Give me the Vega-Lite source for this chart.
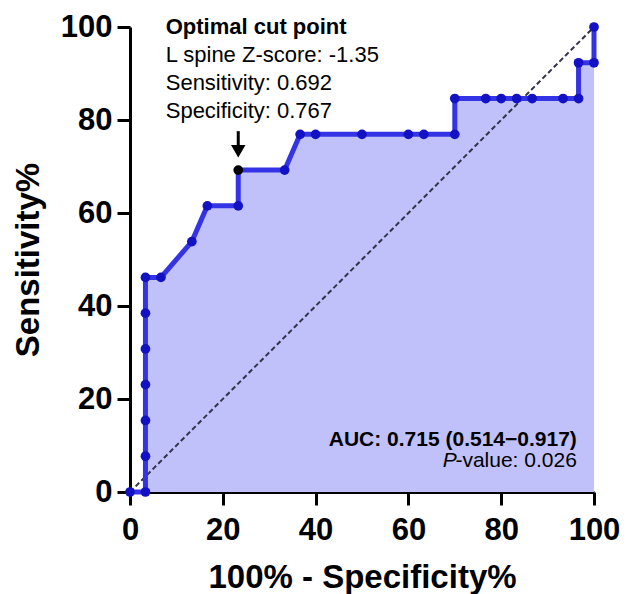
{
  "$schema": "https://vega.github.io/schema/vega-lite/v6.json",
  "width": 464,
  "height": 465,
  "autosize": {"type": "none"},
  "padding": {"left": 130, "top": 27, "right": 39, "bottom": 102},
  "background": "white",
  "config": {
    "view": {"stroke": null},
    "font": "Liberation Sans",
    "axis": {
      "grid": false,
      "domainColor": "black",
      "domainWidth": 3,
      "tickColor": "black",
      "tickWidth": 3,
      "tickSize": 13,
      "labelColor": "black",
      "labelFont": "Liberation Sans",
      "labelFontSize": 31,
      "labelFontWeight": "bold",
      "labelFlush": false,
      "labelOverlap": false,
      "titleColor": "black",
      "titleFont": "Liberation Sans",
      "titleFontSize": 33,
      "titleFontWeight": "bold"
    }
  },
  "datasets": {
    "roc": [
      {"order": 1, "fpr": 0, "sens": 0, "kind": "point"},
      {"order": 2, "fpr": 3.33, "sens": 0, "kind": "point"},
      {"order": 3, "fpr": 3.33, "sens": 7.69, "kind": "point"},
      {"order": 4, "fpr": 3.33, "sens": 15.38, "kind": "point"},
      {"order": 5, "fpr": 3.33, "sens": 23.08, "kind": "point"},
      {"order": 6, "fpr": 3.33, "sens": 30.77, "kind": "point"},
      {"order": 7, "fpr": 3.33, "sens": 38.46, "kind": "point"},
      {"order": 8, "fpr": 3.33, "sens": 46.15, "kind": "point"},
      {"order": 9, "fpr": 6.67, "sens": 46.15, "kind": "point"},
      {"order": 10, "fpr": 13.33, "sens": 53.85, "kind": "point"},
      {"order": 11, "fpr": 16.67, "sens": 61.54, "kind": "point"},
      {"order": 12, "fpr": 23.33, "sens": 61.54, "kind": "point"},
      {"order": 13, "fpr": 23.33, "sens": 69.23, "kind": "optimal"},
      {"order": 14, "fpr": 33.33, "sens": 69.23, "kind": "point"},
      {"order": 15, "fpr": 36.67, "sens": 76.92, "kind": "point"},
      {"order": 16, "fpr": 40, "sens": 76.92, "kind": "point"},
      {"order": 17, "fpr": 50, "sens": 76.92, "kind": "point"},
      {"order": 18, "fpr": 60, "sens": 76.92, "kind": "point"},
      {"order": 19, "fpr": 63.33, "sens": 76.92, "kind": "point"},
      {"order": 20, "fpr": 70, "sens": 76.92, "kind": "point"},
      {"order": 21, "fpr": 70, "sens": 84.62, "kind": "point"},
      {"order": 22, "fpr": 76.67, "sens": 84.62, "kind": "point"},
      {"order": 23, "fpr": 80, "sens": 84.62, "kind": "point"},
      {"order": 24, "fpr": 83.33, "sens": 84.62, "kind": "point"},
      {"order": 25, "fpr": 86.67, "sens": 84.62, "kind": "point"},
      {"order": 26, "fpr": 93.33, "sens": 84.62, "kind": "point"},
      {"order": 27, "fpr": 96.67, "sens": 84.62, "kind": "point"},
      {"order": 28, "fpr": 96.67, "sens": 92.31, "kind": "point"},
      {"order": 29, "fpr": 100, "sens": 92.31, "kind": "point"},
      {"order": 30, "fpr": 100, "sens": 100, "kind": "point"}
    ],
    "diag": [
      {"fpr": 0, "sens": 0},
      {"fpr": 100, "sens": 100}
    ],
    "notesLeft": [
      {"x": 7.7, "y": 92.5, "text": "L spine Z-score: -1.35"},
      {"x": 7.7, "y": 86.5, "text": "Sensitivity: 0.692"},
      {"x": 7.7, "y": 80.4, "text": "Specificity: 0.767"}
    ],
    "notesBold": [
      {"x": 7.7, "y": 98.5, "text": "Optimal cut point"}
    ],
    "auc": [
      {"x": 96.3, "y": 9.8, "text": "AUC: 0.715 (0.514\u22120.917)"}
    ],
    "pval": [
      {"x": 96.3, "y": 5.3, "text": "-value: 0.026"}
    ],
    "pItalic": [
      {"x": 70.4, "y": 5.3, "text": "P"}
    ],
    "arrow": [
      {"x": 23.33, "y1": 77.6, "y2": 74.5, "tip": 73.3}
    ]
  },
  "layer": [
    {
      "data": {"name": "roc"},
      "mark": {"type": "area", "color": "#c0c0fa", "opacity": 1},
      "encoding": {
        "x": {"field": "fpr", "type": "quantitative", "scale": {"domain": [0, 100], "nice": false}, "axis": {"values": [0, 20, 40, 60, 80, 100], "title": "100% - Specificity%", "labelPadding": 10, "titlePadding": 16}},
        "y": {"field": "sens", "type": "quantitative", "stack": null, "scale": {"domain": [0, 100], "nice": false}, "axis": {"values": [0, 20, 40, 60, 80, 100], "title": "Sensitivity%", "labelPadding": 5, "titlePadding": 15}}
      }
    },
    {
      "data": {"name": "diag"},
      "mark": {"type": "line", "color": "#33334a", "strokeWidth": 2, "strokeDash": [5, 3]},
      "encoding": {
        "x": {"field": "fpr", "type": "quantitative"},
        "y": {"field": "sens", "type": "quantitative"}
      }
    },
    {
      "data": {"name": "roc"},
      "mark": {"type": "line", "color": "#3434e6", "strokeWidth": 5, "strokeJoin": "round"},
      "encoding": {
        "x": {"field": "fpr", "type": "quantitative"},
        "y": {"field": "sens", "type": "quantitative"},
        "order": {"field": "order"}
      }
    },
    {
      "data": {"name": "roc"},
      "mark": {"type": "point", "filled": true, "size": 95, "opacity": 1},
      "encoding": {
        "x": {"field": "fpr", "type": "quantitative"},
        "y": {"field": "sens", "type": "quantitative"},
        "color": {"field": "kind", "type": "nominal", "scale": {"domain": ["point", "optimal"], "range": ["#1212c4", "#000000"]}, "legend": null}
      }
    },
    {
      "data": {"name": "arrow"},
      "mark": {"type": "rule", "color": "black", "strokeWidth": 3},
      "encoding": {
        "x": {"field": "x", "type": "quantitative"},
        "y": {"field": "y1", "type": "quantitative"},
        "y2": {"field": "y2"}
      }
    },
    {
      "data": {"name": "arrow"},
      "mark": {"type": "point", "shape": "triangle-down", "filled": true, "color": "black", "size": 210, "opacity": 1},
      "encoding": {
        "x": {"field": "x", "type": "quantitative"},
        "y": {"field": "tip", "type": "quantitative"}
      }
    },
    {
      "data": {"name": "notesBold"},
      "mark": {"type": "text", "fontSize": 22, "fontWeight": "bold", "color": "black", "baseline": "alphabetic", "align": "left"},
      "encoding": {
        "x": {"field": "x", "type": "quantitative"},
        "y": {"field": "y", "type": "quantitative"},
        "text": {"field": "text"}
      }
    },
    {
      "data": {"name": "notesLeft"},
      "mark": {"type": "text", "fontSize": 22, "color": "black", "baseline": "alphabetic", "align": "left"},
      "encoding": {
        "x": {"field": "x", "type": "quantitative"},
        "y": {"field": "y", "type": "quantitative"},
        "text": {"field": "text"}
      }
    },
    {
      "data": {"name": "auc"},
      "mark": {"type": "text", "fontSize": 21, "fontWeight": "bold", "color": "black", "baseline": "alphabetic", "align": "right"},
      "encoding": {
        "x": {"field": "x", "type": "quantitative"},
        "y": {"field": "y", "type": "quantitative"},
        "text": {"field": "text"}
      }
    },
    {
      "data": {"name": "pval"},
      "mark": {"type": "text", "fontSize": 21, "color": "black", "baseline": "alphabetic", "align": "right"},
      "encoding": {
        "x": {"field": "x", "type": "quantitative"},
        "y": {"field": "y", "type": "quantitative"},
        "text": {"field": "text"}
      }
    },
    {
      "data": {"name": "pItalic"},
      "mark": {"type": "text", "fontSize": 21, "fontStyle": "italic", "color": "black", "baseline": "alphabetic", "align": "right"},
      "encoding": {
        "x": {"field": "x", "type": "quantitative"},
        "y": {"field": "y", "type": "quantitative"},
        "text": {"field": "text"}
      }
    }
  ]
}
